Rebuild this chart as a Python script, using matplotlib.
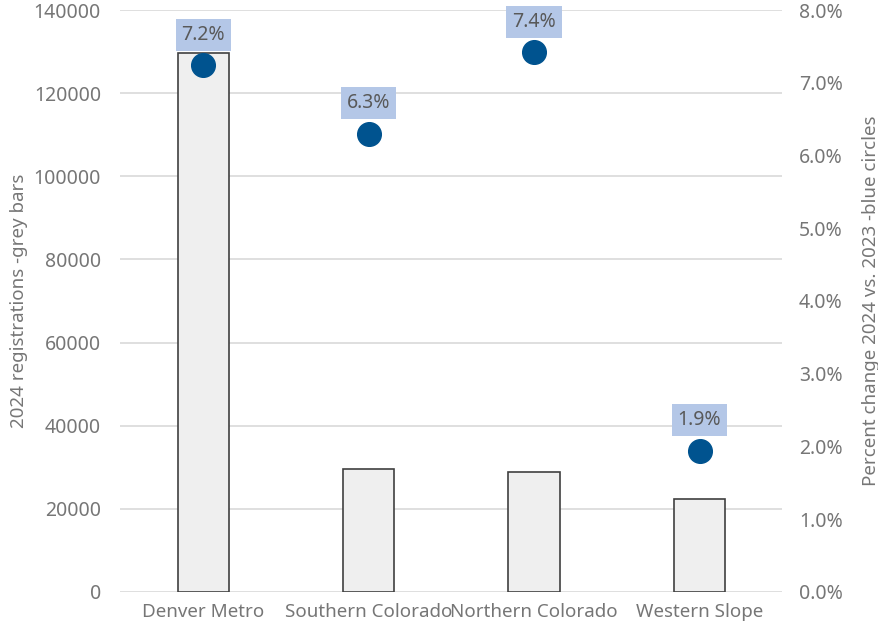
import matplotlib.pyplot as plt
from matplotlib.ticker import FuncFormatter

# Datos
regiones = ["Denver Metro", "Southern Colorado", "Northern Colorado", "Western Slope"]
registros_2024 = [129700, 29600, 28900, 22300]
cambio_pct = [0.0724, 0.0630, 0.0742, 0.0194]

plt.rcParams["font.family"] = ["Noto Sans", "DejaVu Sans"]
gris = "#767676"

fig, ax = plt.subplots(figsize=(8.79, 6.31), dpi=100)
fig.subplots_adjust(left=0.137, right=0.89, top=0.984, bottom=0.062)

x = range(len(regiones))
ax.bar(x, registros_2024, width=0.31, color="#efefef", edgecolor="#404040", linewidth=1.2, zorder=2)
ax.set_ylim(0, 140000)
ax.set_xlim(-0.5, 3.5)
ax.set_yticks(range(0, 140001, 20000))
ax.yaxis.grid(True, color="#d9d9d9", linewidth=1.2, zorder=0)
ax.set_axisbelow(True)
ax.set_xticks(list(x))
ax.set_xticklabels(regiones)
ax.set_ylabel("2024 registrations -grey bars", color=gris, fontsize=13.5, labelpad=4)
ax.tick_params(axis="y", colors=gris, labelsize=14, length=0, pad=14)
ax.tick_params(axis="x", colors=gris, labelsize=13.5, length=0, pad=8)
for s in ax.spines.values():
    s.set_visible(False)

# Eje secundario
ax2 = ax.twinx()
ax2.scatter(x, cambio_pct, s=290, color="#00538f", zorder=3)
ax2.set_ylim(0, 0.08)
ax2.set_yticks([i / 100 for i in range(9)])
ax2.yaxis.set_major_formatter(FuncFormatter(lambda v, p: f"{v*100:.1f}%"))
ax2.set_ylabel("Percent change 2024 vs. 2023 -blue circles", color=gris, fontsize=13.5, labelpad=14)
ax2.tick_params(colors=gris, labelsize=14, length=0, pad=12)
for s in ax2.spines.values():
    s.set_visible(False)

for xi, v in zip(x, cambio_pct):
    ax2.annotate(f"{v*100:.1f}%", (xi, v), xytext=(0, 22), textcoords="offset points",
                 ha="center", va="center", color="#595959", fontsize=14,
                 bbox=dict(boxstyle="square,pad=0.3", facecolor="#b4c7e7", edgecolor="none"))

plt.savefig("out.png", dpi=100)
plt.close()
